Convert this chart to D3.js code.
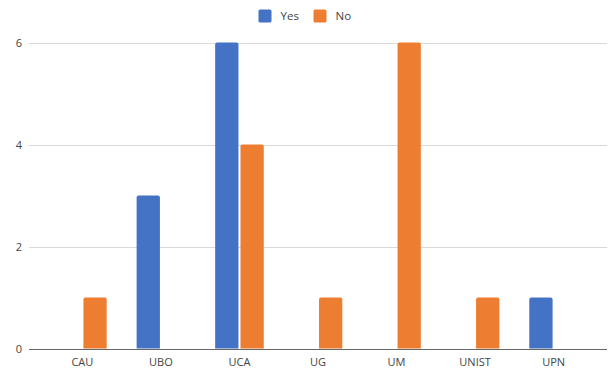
<!DOCTYPE html>
<html><head><meta charset="utf-8">
<script src="https://cdn.jsdelivr.net/npm/d3@7"></script>
<style>body{margin:0;background:#fff;}svg{display:block;font-family:"Open Sans","Noto Sans",sans-serif;}</style>
</head><body><svg id="c" width="608" height="371"></svg>
<script>
const categories = ["CAU","UBO","UCA","UG","UM","UNIST","UPN"];
const seriesNames = ["Yes","No"];
const yesValues = [0,3,6,0,0,0,1];
const noValues = [1,0,4,1,6,1,0];
const yTicks = [0,2,4,6];
const colors = ["#4472c4","#ed7d31"];

(function(){
const svg = d3.select("#c");
const pLeft = 29, pRight = 607, pTop = 42.5, pBottom = 348.5;
const x = d3.scaleBand().domain(categories).range([pLeft, pRight]).paddingInner(0).paddingOuter(0.18);
const y = d3.scaleLinear().domain([0,6]).range([pBottom, pTop]);
const groupW = 48.6;
const sub = d3.scaleBand().domain(seriesNames).range([0, groupW]).paddingInner(0.08);

svg.append("g").selectAll("line").data(yTicks.filter(d=>d>0)).join("line")
  .attr("x1", pLeft).attr("x2", pRight)
  .attr("y1", d=>Math.round(y(d))+0.5).attr("y2", d=>Math.round(y(d))+0.5)
  .attr("stroke", "#d9d9d9").attr("stroke-width", 1);

svg.append("g").selectAll("text").data(yTicks).join("text")
  .attr("x", 22).attr("y", d=>y(d)+4)
  .attr("text-anchor","end").attr("font-size", 11).attr("fill","#444")
  .text(d=>d);

const data = categories.map((c,i)=>({cat:c, vals:[yesValues[i], noValues[i]]}));
const r = 2;
function barPath(x0, w, y0, y1){
  const h = y1 - y0;
  if (h <= 0) return "";
  const rr = Math.min(r, h);
  return `M${x0},${y1}V${y0+rr}Q${x0},${y0} ${x0+rr},${y0}H${x0+w-rr}Q${x0+w},${y0} ${x0+w},${y0+rr}V${y1}Z`;
}
const g = svg.append("g");
data.forEach(d=>{
  const cx = x(d.cat) + x.bandwidth()/2 - groupW/2;
  seriesNames.forEach((s,j)=>{
    const v = d.vals[j];
    if (!v) return;
    g.append("path")
      .attr("d", barPath(cx + sub(s), sub.bandwidth(), y(v), y(0)))
      .attr("fill", colors[j]);
  });
});

svg.append("line").attr("x1", pLeft).attr("x2", pRight)
  .attr("y1", Math.round(y(0))+0.5).attr("y2", Math.round(y(0))+0.5)
  .attr("stroke", "#666").attr("stroke-width", 1);

svg.append("g").selectAll("text").data(categories).join("text")
  .attr("x", d=>x(d)+x.bandwidth()/2).attr("y", 366)
  .attr("text-anchor","middle").attr("font-size", 11).attr("fill","#444")
  .text(d=>d);

const legX = [258.5, 313.5];
const leg = svg.append("g");
seriesNames.forEach((s,i)=>{
  leg.append("rect").attr("x", legX[i]).attr("y", 9.5).attr("width", 13).attr("height", 13).attr("rx",1.5).attr("fill", colors[i]);
  leg.append("text").attr("x", legX[i]+22).attr("y", 20).attr("font-size", 11.5).attr("fill","#444").text(s);
});
})();
</script></body></html>
